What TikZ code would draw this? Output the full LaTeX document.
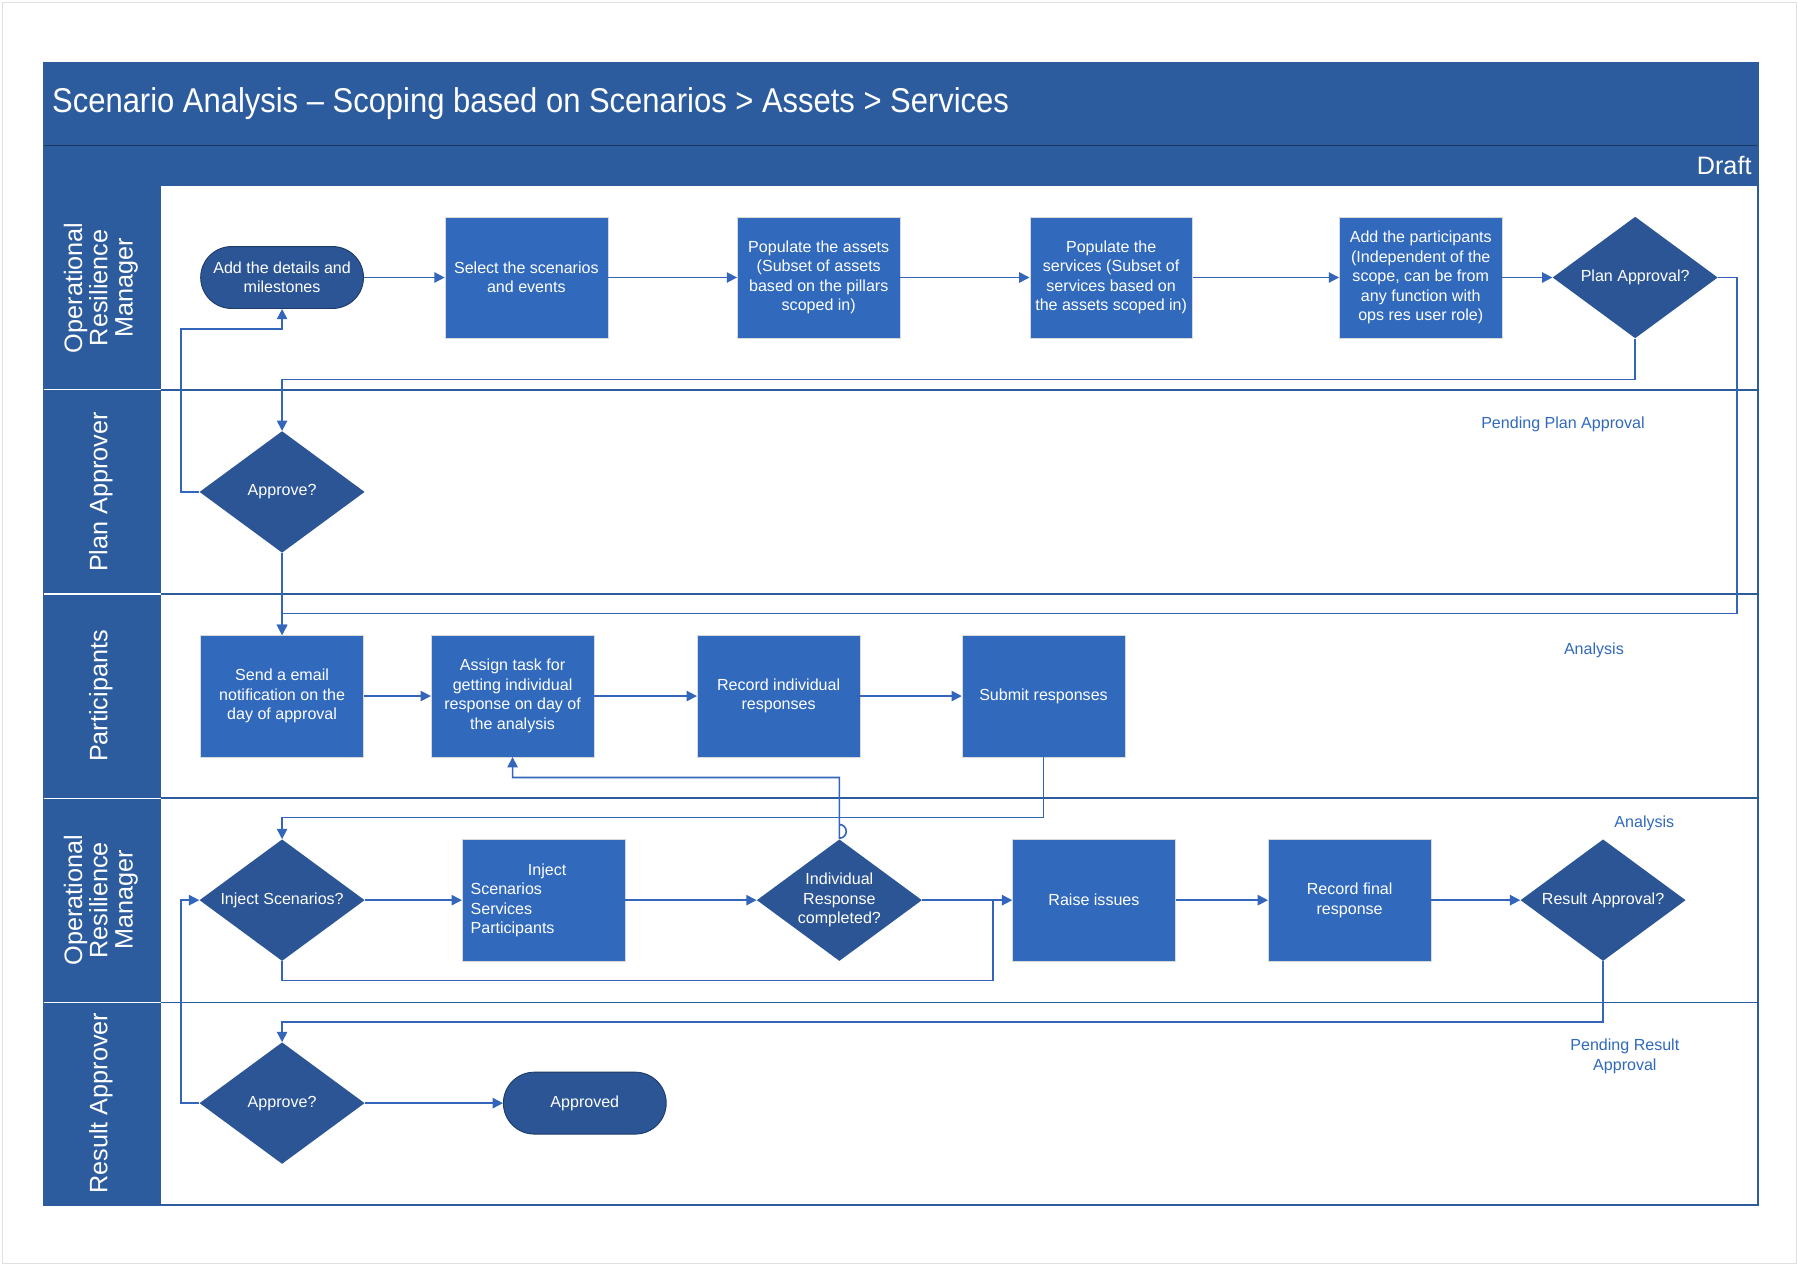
\documentclass[tikz,border=0pt]{standalone}
\usepackage{fontspec}
\setmainfont{Liberation Sans}
\newfontfamily\titlefont{Liberation Sans}[FakeStretch=0.9,Ligatures=TeX]
\usetikzlibrary{shapes.geometric,arrows.meta}
\definecolor{hdr}{HTML}{2D5C9E}
\definecolor{box}{HTML}{3169BD}
\definecolor{dia}{HTML}{2B5595}
\definecolor{ln}{HTML}{3366BB}
\begin{document}
\begin{tikzpicture}[x=1pt,y=-1pt,
 every node/.style={font=\fontsize{14}{17}\selectfont},
 bx/.style={draw=black!15,fill=box,text=white,minimum width=142,minimum height=106,align=center,inner sep=2pt},
 term/.style={draw=dia!70!black,fill=dia,text=white,rounded corners=27,minimum width=142,minimum height=54,align=center,thick},
 dm/.style={diamond,aspect=1.36,fill=dia,text=white,minimum width=144,minimum height=106,inner sep=0pt,align=center},
 ar/.style={ln,line width=1.4pt,-{Triangle[length=9pt,width=9pt]}},
 li/.style={ln,line width=1.4pt},
 note/.style={text=box,align=center},
 lab/.style={rotate=90,text=white,align=center,font=\fontsize{22}{22}\selectfont}]
\useasboundingbox (0,0) rectangle (1568,1104);
\fill[white] (0,0) rectangle (1568,1104);
\draw[black!12] (2,2) rectangle (1566,1102);
% frame
\fill[hdr] (38,55) rectangle (1533,162);
\draw[black!40!hdr] (38,127) -- (1533,127);
\fill[hdr] (38,162) rectangle (140,1051);
\draw[hdr,line width=1.2pt] (38,55) rectangle (1533,1051);
\foreach \y in {340,518,696,874}{\draw[hdr,line width=1.2pt] (38,\y) -- (1533,\y);\draw[white,line width=1pt] (38,\y) -- (140,\y);}
\node[anchor=west,text=white,font=\titlefont\fontsize{30}{30}\selectfont] (title) at (42,90) {Scenario Analysis – Scoping based on Scenarios > Assets > Services};
\node[anchor=east,text=white,font=\fontsize{22}{22}\selectfont] (draft) at (1531,144) {Draft};
\node[lab] (l1) at (88,251) {Operational\\Resilience\\Manager};
\node[lab] (l2) at (88,429) {Plan Approver};
\node[lab] (l3) at (88,607) {Participants};
\node[lab] (l4) at (88,785) {Operational\\Resilience\\Manager};
\node[lab] (l5) at (88,962) {Result Approver};
% lane 1
\node[term] (t1) at (246,242) {Add the details and\\milestones};
\node[bx] (b1) at (459,242) {Select the scenarios\\and events};
\node[bx] (b2) at (714,242) {Populate the assets\\(Subset of assets\\based on the pillars\\scoped in)};
\node[bx] (b3) at (969,242) {Populate the\\services (Subset of\\services based on\\the assets scoped in)};
\node[bx] (b4) at (1239,242) {Add the participants\\(Independent of the\\scope, can be from\\any function with\\ops res user role)};
\node[dm] (d1) at (1426,242) {Plan Approval?};
\draw[ar] (t1) -- (b1); \draw[ar] (b1) -- (b2); \draw[ar] (b2) -- (b3); \draw[ar] (b3) -- (b4); \draw[ar] (b4) -- (d1);
% lane 2
\node[dm] (d2) at (246,429) {Approve?};
\node[note] (n1) at (1363,370) {Pending Plan Approval};
\draw[ar] (d1.south) -- (1426,331) -- (246,331) -- (d2.north);
\coordinate (c1) at (158,287);
\draw[ar] (d2.west) -- (158,429) -- (c1) -- (246,287) -- (t1.south);
% lane 3
\node[bx] (p1) at (246,607) {Send a email\\notification on the\\day of approval};
\node[bx] (p2) at (447,607) {Assign task for\\getting individual\\response on day of\\the analysis};
\node[bx] (p3) at (679,607) {Record individual\\responses};
\node[bx] (p4) at (910,607) {Submit responses};
\node[note] (n2) at (1390,567) {Analysis};
\draw[ar] (d2.south) -- (p1.north);
\draw[ar] (d1.east) -- (1515,242) -- (1515,535) -- (246,535) -- (p1.north);
\draw[ar] (p1) -- (p2); \draw[ar] (p2) -- (p3); \draw[ar] (p3) -- (p4);
% lane 4
\node[dm] (d3) at (246,785) {Inject Scenarios?};
\node[bx,align=left] (i1) at (474,785) {\hspace*{50pt}Inject\\Scenarios\\Services\\Participants\hspace*{54pt}};
\node[dm] (d4) at (732,785) {Individual\\Response\\completed?};
\node[bx] (r1) at (954,785) {Raise issues};
\node[bx] (r2) at (1177,785) {Record final\\response};
\node[dm] (d5) at (1398,785) {Result Approval?};
\node[note] (n3) at (1434,718) {Analysis};
\draw[ar] (p4.south) -- (910,713) -- (246,713) -- (d3.north);
\draw[ar] (d4.north) -- (732,719) arc[start angle=-90,end angle=90,radius=6] -- (732,678) -- (447,678) -- (p2.south);
\draw[ar] (d3) -- (i1); \draw[ar] (i1) -- (d4); \draw[ar] (d4) -- (r1);
\draw[li] (d3.south) -- (246,855) -- (866,855) -- (866,785);
\draw[ar] (r1) -- (r2); \draw[ar] (r2) -- (d5);
% lane 5
\node[dm] (d6) at (246,962) {Approve?};
\node[term] (t2) at (510,962) {Approved};
\node[note] (n4) at (1417,921) {Pending Result\\Approval};
\draw[ar] (d5.south) -- (1398,891) -- (246,891) -- (d6.north);
\draw[ar] (d6.west) -- (158,962) -- (158,785) -- (d3.west);
\draw[ar] (d6) -- (t2);
\end{tikzpicture}
\end{document}
